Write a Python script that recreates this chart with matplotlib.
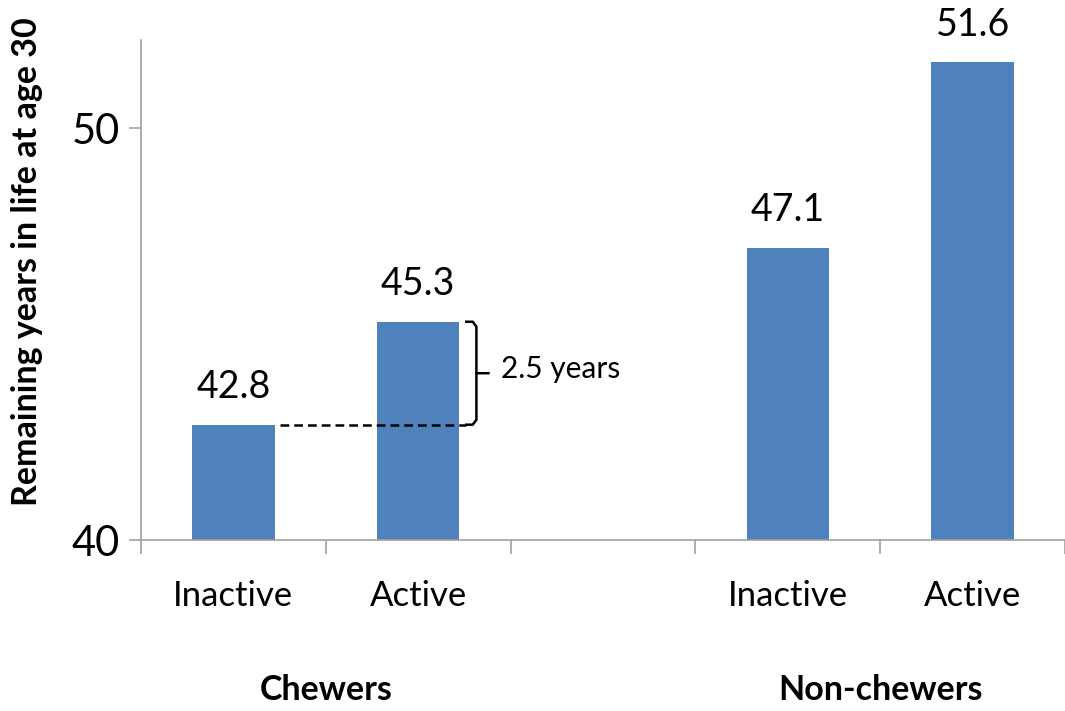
import numpy as np
import matplotlib.pyplot as plt

# data
cats = ['Inactive', 'Active', '', 'Inactive', 'Active']
vals = [42.8, 45.3, np.nan, 47.1, 51.6]
groups = ['Chewers', 'Non-chewers']
group_pos = [0.5, 3.5]
gap_label = '2.5 years'

plt.rcParams['font.family'] = ['Lato', 'DejaVu Sans']

fig = plt.figure(figsize=(10.65, 7.11), dpi=100)
ax = fig.add_axes([0.1324, 0.2405, 0.8676, 0.7032])

x = np.arange(len(cats))
ax.bar(x, vals, width=0.445, color='#4F81BD', bottom=0)

for xi, v in zip(x, vals):
    if not np.isnan(v):
        ax.annotate(f'{v:.1f}', (xi, v), xytext=(0, 14), textcoords='offset points',
                    ha='center', va='bottom', fontsize=27)

ax.set_ylim(40, 52.14)
ax.set_xlim(-0.5, 4.452)
ax.set_yticks([40, 50])
ax.tick_params(axis='y', labelsize=30, length=9, width=1.2, color='#a0a0a0', pad=6)

# tick marks at slot boundaries, labels at the centres
ax.set_xticks(np.arange(-0.5, 5, 1.0))
ax.set_xticklabels([])
ax.set_xticks(x, minor=True)
ax.set_xticklabels(cats, minor=True, fontsize=25)
ax.tick_params(axis='x', which='major', length=10, width=1.2, color='#a0a0a0')
ax.tick_params(axis='x', which='minor', length=0, pad=29)

for s in ['top', 'right']:
    ax.spines[s].set_visible(False)
for s in ['left', 'bottom']:
    ax.spines[s].set_color('#a0a0a0')
    ax.spines[s].set_linewidth(1.2)

ax.set_ylabel('Remaining years in life at age 30', fontsize=24.5, fontweight='bold')
ax.yaxis.set_label_coords(-0.106, 0.556)

for g, gp in zip(groups, group_pos):
    ax.text(gp, -0.30, g, transform=ax.get_xaxis_transform(), ha='center', va='center',
            fontsize=24.5, fontweight='bold')

# dashed reference line and bracket for the chewers gap
low, high = vals[0], vals[1]
ax.plot([0.25, 1.26], [low, low], color='black', lw=1.8, ls=(0, (3.5, 2)))
bx, nx = 1.315, 1.38
mid = (low + high) / 2
ax.plot([1.26, bx - 0.02, bx, bx, nx], [high, high, high - 0.12, mid, mid],
        color='black', lw=1.8, solid_joinstyle='round')
ax.plot([1.26, bx - 0.02, bx, bx], [low, low, low + 0.12, mid], color='black', lw=1.8,
        solid_joinstyle='round')
ax.text(1.45, mid + 0.1, gap_label, ha='left', va='center', fontsize=21.5)

fig.savefig('out.png', dpi=100)
